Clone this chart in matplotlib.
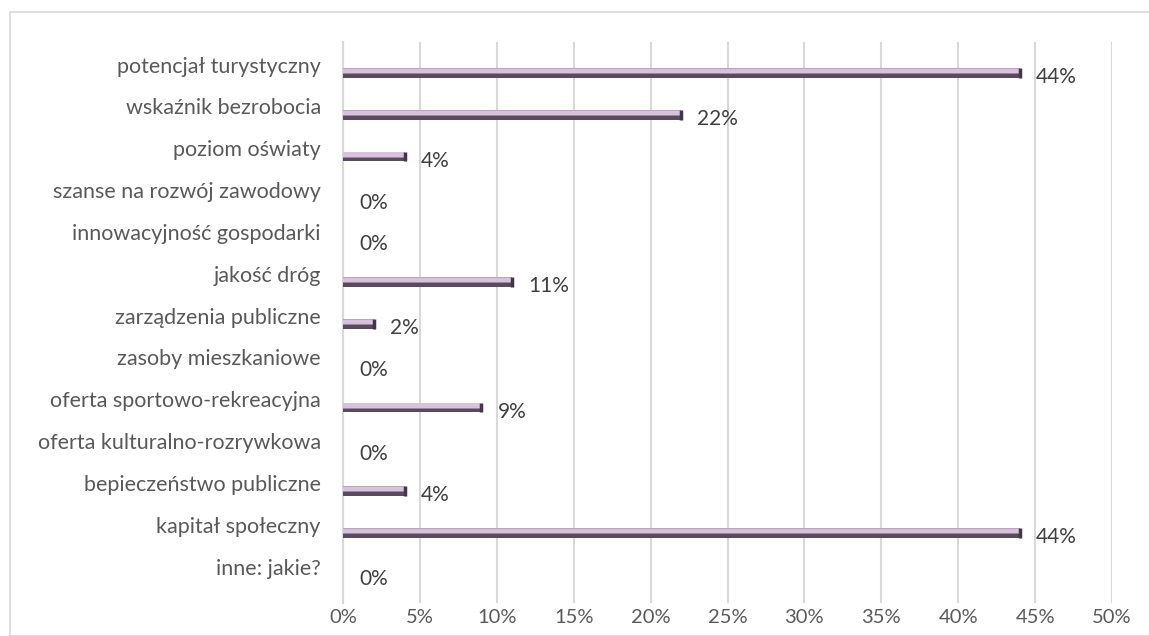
import matplotlib.pyplot as plt
from matplotlib.patches import Rectangle
from matplotlib.transforms import offset_copy

# data (top to bottom)
categories = [
    "potencjał turystyczny",
    "wskaźnik bezrobocia",
    "poziom oświaty",
    "szanse na rozwój zawodowy",
    "innowacyjność gospodarki",
    "jakość dróg",
    "zarządzenia publiczne",
    "zasoby mieszkaniowe",
    "oferta sportowo-rekreacyjna",
    "oferta kulturalno-rozrywkowa",
    "bepieczeństwo publiczne",
    "kapitał społeczny",
    "inne: jakie?",
]
values = [44, 22, 4, 0, 0, 11, 2, 0, 9, 0, 4, 44, 0]
x_ticks = [0, 5, 10, 15, 20, 25, 30, 35, 40, 45, 50]

W, H = 1149, 636
fig = plt.figure(figsize=(W / 100, H / 100), dpi=100)
fig.patch.set_facecolor("white")

# chart border
fig.patches.append(Rectangle((10 / W, 0), 1.2, 1 - 12 / H, transform=fig.transFigure,
                             fill=False, edgecolor="#d9d9d9", linewidth=1.2))

ax = fig.add_axes([343 / W, 1 - 603 / H, (1112 - 343) / W, (603 - 42) / H])

pos = list(range(len(categories)))
bh = 0.23
# fake the bevelled look with stacked strips
ax.barh([p + bh * 0.28 for p in pos], values, height=bh * 0.44, color="#5a4a5d", zorder=3)
ax.barh([p + bh * 0.0 for p in pos], values, height=bh * 0.2, color="#9c86a0", zorder=3)
ax.barh([p - bh * 0.25 for p in pos], values, height=bh * 0.5, color="#d6c2da", zorder=3)
ax.barh([p - bh * 0.47 for p in pos], values, height=bh * 0.08, color="#b9a3bd", zorder=3)
# dark end cap
for p, v in zip(pos, values):
    if v > 0:
        ax.plot([v, v], [p - bh / 2, p + bh / 2], color="#433744", lw=2.5,
                solid_capstyle="butt", zorder=4)

ax.set_xlim(0, 50)
ax.set_ylim(12.67, -0.74)

ax.set_xticks(x_ticks)
ax.set_xticklabels([f"{t}%" for t in x_ticks])
ax.set_yticks([p - 0.2 for p in pos])
ax.set_yticklabels(categories)
ax.tick_params(axis="both", length=0, colors="#595959")
ax.tick_params(axis="y", pad=16, labelsize=15.5)
ax.tick_params(axis="x", pad=4, labelsize=14.5)
for lab in ax.get_xticklabels() + ax.get_yticklabels():
    lab.set_fontfamily("Lato")
    lab.set_color("#595959")

ax.grid(axis="x", color="#d9d9d9", linewidth=1.5, zorder=0)
for s in ["top", "right", "bottom"]:
    ax.spines[s].set_visible(False)
ax.spines["left"].set_color("#d9d9d9")
ax.spines["left"].set_linewidth(1.5)

# value labels
tr = offset_copy(ax.transData, fig=fig, x=16, y=0, units="dots")
for p, v in zip(pos, values):
    ax.text(v, p + 0.1, f"{v}%", transform=tr, va="center", ha="left",
            fontsize=15, color="#404040", fontfamily="Lato")

fig.savefig("out.png", dpi=100)
